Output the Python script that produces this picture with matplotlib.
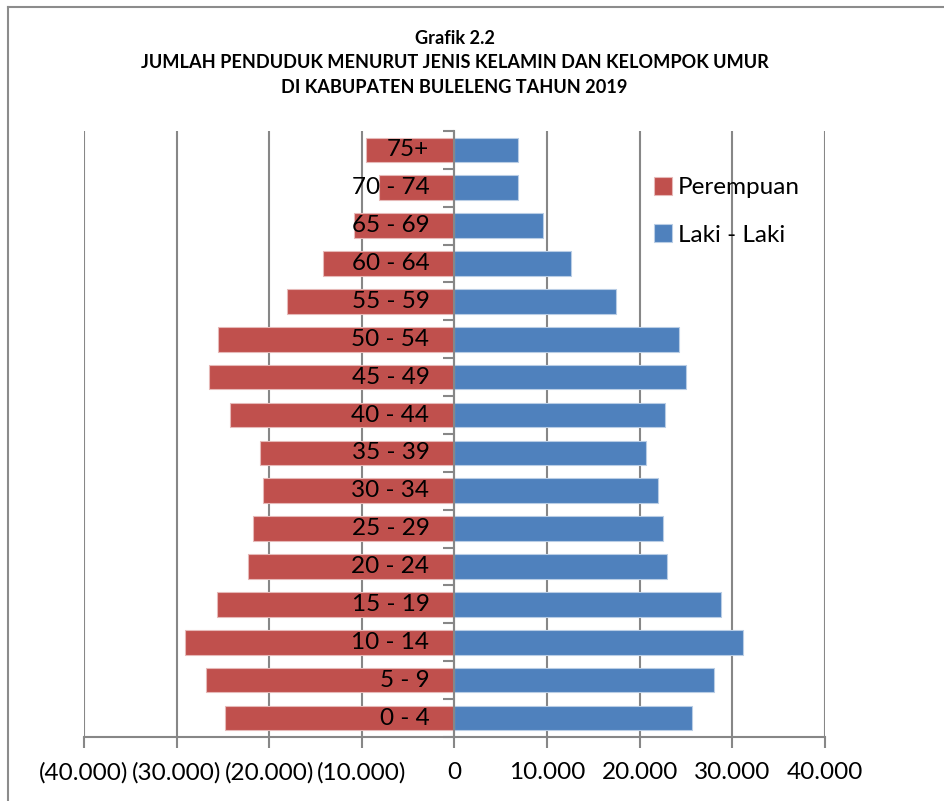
import matplotlib
matplotlib.use("Agg")
import matplotlib.pyplot as plt
import numpy as np
from matplotlib.lines import Line2D

plt.rcParams['font.family'] = ['Lato', 'DejaVu Sans']

# Jumlah penduduk per kelompok umur (dari bawah ke atas)
kelompok_umur = ['0 - 4', '5 - 9', '10 - 14', '15 - 19', '20 - 24', '25 - 29',
                 '30 - 34', '35 - 39', '40 - 44', '45 - 49', '50 - 54', '55 - 59',
                 '60 - 64', '65 - 69', '70 - 74', '75+']
laki_laki = [25660, 27975, 31160, 28760, 22930, 22560, 21980, 20700,
             22690, 24960, 24190, 17420, 12600, 9580, 6910, 6910]
perempuan = [24750, 26860, 29090, 25660, 22270, 21780, 20660, 20950,
             24260, 26530, 25490, 18120, 14240, 10840, 8140, 9580]

x_ticks = [-40000, -30000, -20000, -10000, 0, 10000, 20000, 30000, 40000]
x_tick_labels = ['(40.000)', '(30.000)', '(20.000)', '(10.000)', '0',
                 '10.000', '20.000', '30.000', '40.000']

title_lines = ['Grafik 2.2',
               'JUMLAH PENDUDUK MENURUT JENIS KELAMIN DAN KELOMPOK UMUR',
               'DI KABUPATEN BULELENG TAHUN 2019']

RED = '#C0504D'
BLUE = '#4F81BD'
GRID = '#878787'

fig = plt.figure(figsize=(9.45, 8.01), dpi=100)
fig.patch.set_facecolor('white')
ax = fig.add_axes([0.0889, 0.0799, 0.7841, 0.7566])

y = np.arange(len(kelompok_umur))
ax.barh(y, -np.array(perempuan), height=0.65, color=RED,
        edgecolor='#E6B9B8', linewidth=0.8, label='Perempuan', zorder=2)
ax.barh(y, laki_laki, height=0.65, color=BLUE,
        edgecolor='#B9CDE5', linewidth=0.8, label='Laki - Laki', zorder=2)

ax.set_xlim(-40000, 40000)
ax.set_ylim(-0.5, len(kelompok_umur) - 0.5)
ax.set_axisbelow(True)

# vertical gridlines
ax.set_xticks(x_ticks)
ax.set_xticklabels(x_tick_labels, fontsize=17.5)
ax.grid(axis='x', color=GRID, linewidth=1.5)
ax.tick_params(axis='x', direction='out', length=8, width=1.5,
               color=GRID, pad=10)

# category axis sits at zero, tick marks at category boundaries
ax.spines['left'].set_position(('data', 0))
ax.spines['left'].set_color(GRID)
ax.spines['left'].set_linewidth(1.5)
ax.spines['left'].set_zorder(3)
ax.spines['bottom'].set_color(GRID)
ax.spines['bottom'].set_linewidth(1.5)
ax.spines['top'].set_visible(False)
ax.spines['right'].set_visible(False)
ax.set_yticks(y)
ax.set_yticklabels([])
ax.set_yticks(np.arange(len(kelompok_umur) + 1) - 0.5, minor=True)
ax.tick_params(axis='y', which='major', length=0)
ax.tick_params(axis='y', which='minor', direction='out', length=8,
               width=1.5, color=GRID)

for yi, lab in zip(y, kelompok_umur):
    ax.annotate(lab, xy=(0, yi), xytext=(-18, 0), textcoords='offset points',
                ha='right', va='center', fontsize=17.5, color='black', zorder=5)

ax.legend(loc='upper left', bbox_to_anchor=(0.756, 0.94), frameon=False,
          fontsize=17.5, handlelength=0.75, handleheight=0.75,
          handletextpad=0.25, labelspacing=1.07, borderaxespad=0)

for txt, ypos in zip(title_lines, [0.952, 0.922, 0.891]):
    fig.text(0.481, ypos, txt, ha='center', va='center',
             fontsize=13.1, fontweight='bold')

# chart frame edges (top and left)
fig.add_artist(Line2D([8 / 945, 1.0], [1 - 7 / 801, 1 - 7 / 801],
                      transform=fig.transFigure, color='#8c8c8c', linewidth=1.5))
fig.add_artist(Line2D([8 / 945, 8 / 945], [0.0, 1 - 7 / 801],
                      transform=fig.transFigure, color='#8c8c8c', linewidth=1.5))

fig.savefig('out.png', dpi=100, facecolor=fig.get_facecolor())
